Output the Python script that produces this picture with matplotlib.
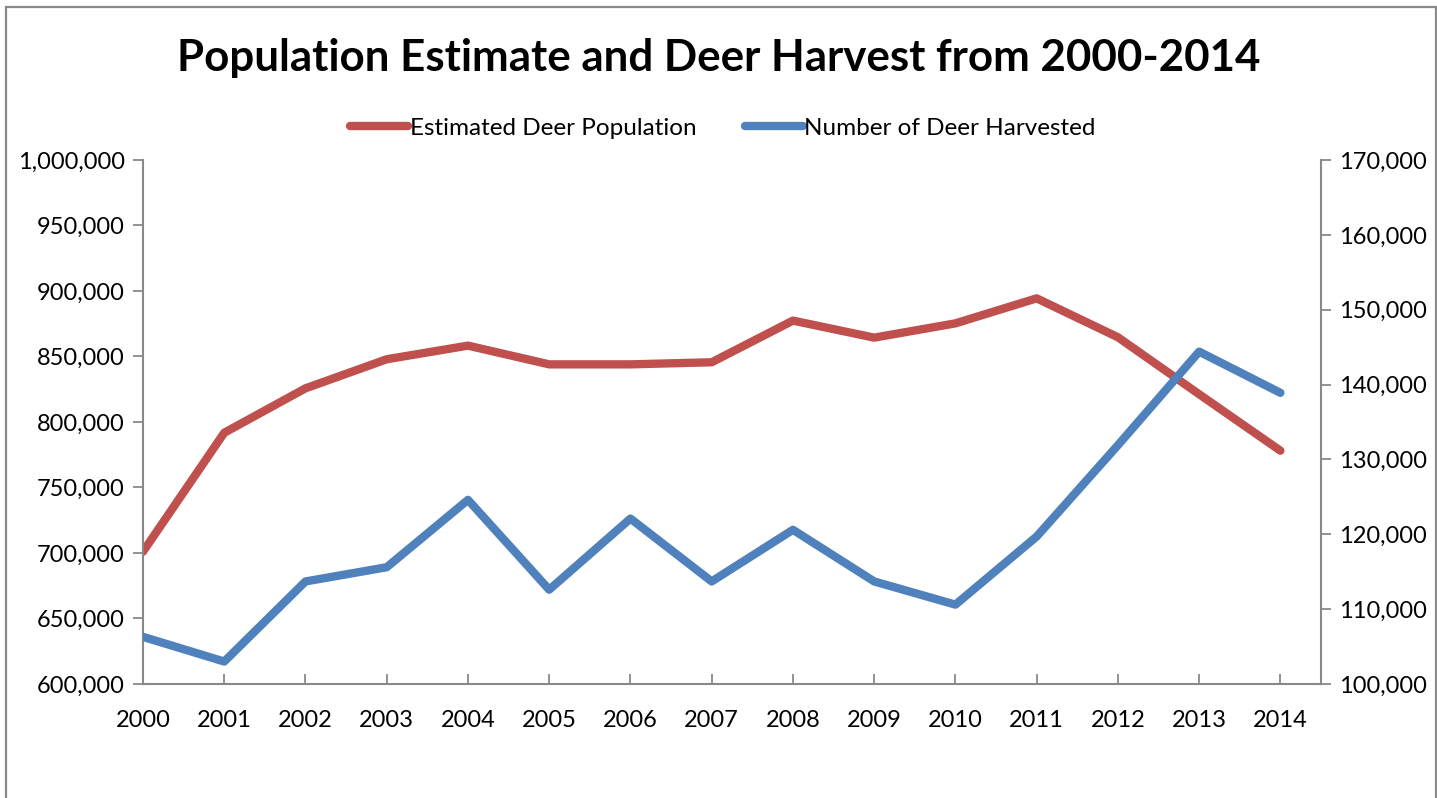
import matplotlib.pyplot as plt
from matplotlib.patches import Rectangle
from matplotlib.ticker import FuncFormatter, MultipleLocator

plt.rcParams['font.family'] = ['Lato', 'DejaVu Sans']

years = [2000, 2001, 2002, 2003, 2004, 2005, 2006, 2007, 2008, 2009, 2010, 2011, 2012, 2013, 2014]
population = [701000, 791800, 825700, 847900, 858300, 844000, 844000, 845600,
              877400, 864400, 875300, 894400, 864700, 821200, 778100]
harvest = [106300, 103000, 113700, 115600, 124600, 112600, 122100, 113700,
           120600, 113700, 110600, 119700, 131900, 144400, 138900]

red = '#C0504D'
blue = '#4F81BD'
grey = '#898989'

fig = plt.figure(figsize=(14.37, 7.98), dpi=100)
ax = fig.add_axes([143 / 1437, 1 - 684 / 798, (1321 - 143) / 1437, (684 - 160) / 798])
ax2 = ax.twinx()

x = list(range(len(years)))
l1, = ax.plot(x, population, color=red, lw=6, solid_capstyle='round',
              solid_joinstyle='round', label='Estimated Deer Population')
l2, = ax2.plot(x, harvest, color=blue, lw=6, solid_capstyle='round',
               solid_joinstyle='round', label='Number of Deer Harvested')

ax.set_xlim(0, len(years) - 0.5)
ax.set_ylim(600000, 1000000)
ax2.set_ylim(100000, 170000)
ax.yaxis.set_major_locator(MultipleLocator(50000))
ax2.yaxis.set_major_locator(MultipleLocator(10000))
fmt = FuncFormatter(lambda v, p: f'{v:,.0f}')
ax.yaxis.set_major_formatter(fmt)
ax2.yaxis.set_major_formatter(fmt)
ax.set_xticks(x)
ax.set_xticklabels([str(y) for y in years])

for a in (ax, ax2):
    for s in a.spines.values():
        s.set_visible(False)
    a.tick_params(labelsize=17, color=grey, length=7, width=1.3)
ax.spines['left'].set_visible(True)
ax.spines['bottom'].set_visible(True)
ax2.spines['right'].set_visible(True)
for s in (ax.spines['left'], ax.spines['bottom'], ax2.spines['right']):
    s.set_color(grey)
    s.set_linewidth(1.5)
ax.tick_params(axis='x', direction='in', length=7, pad=19)
ax.tick_params(axis='y', direction='out', length=7, pad=6)
ax2.tick_params(axis='y', direction='out', length=7, pad=6)

fig.text(0.5, 1 - 58 / 798, 'Population Estimate and Deer Harvest from 2000-2014',
         ha='center', va='center', fontsize=31.6, fontweight='bold')

fig.legend(handles=[l1, l2], loc='center', bbox_to_anchor=(723 / 1437, 1 - 128 / 798),
           ncol=2, frameon=False, fontsize=17.5, handlelength=2.4, handletextpad=0.05,
           columnspacing=2.0)

# outer chart frame
fig.patches.append(Rectangle((6 / 1437, -0.05), (1436 - 6) / 1437, 1.05 - 6.5 / 798,
                             transform=fig.transFigure, fill=False,
                             edgecolor=grey, lw=1.6))

fig.savefig('out.png', dpi=100)
